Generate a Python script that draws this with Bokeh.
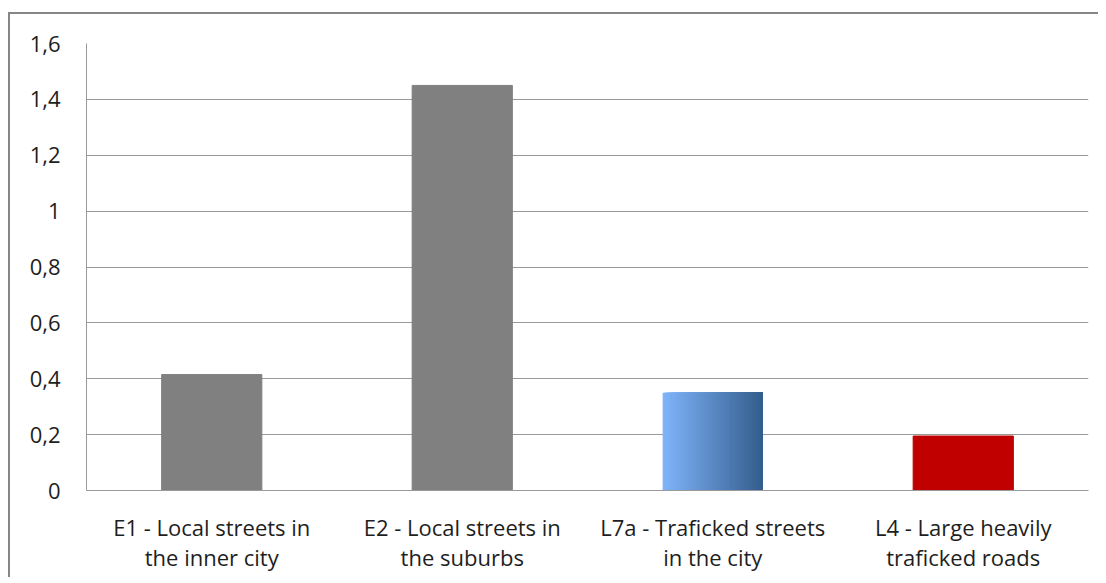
from bokeh.plotting import figure
from bokeh.models import (FactorRange, Range1d, FixedTicker, CustomJSTickFormatter,
                          ColumnDataSource)
from bokeh.transform import dodge
from bokeh.embed import file_html
from bokeh.resources import INLINE

categories = ["E1 - Local streets in\nthe inner city",
              "E2 - Local streets in\nthe suburbs",
              "L7a - Traficked streets\nin the city",
              "L4 - Large heavily\ntraficked roads"]
values = [0.415, 1.45, 0.35, 0.195]
y_ticks = [0, 0.2, 0.4, 0.6, 0.8, 1.0, 1.2, 1.4, 1.6]

FONT = "Open Sans"
TXT = "#1e1e1e"
GRID = "#9a9a9a"

p = figure(x_range=FactorRange(*categories), y_range=Range1d(0, 1.6),
           width=1090, height=565, output_backend="svg", toolbar_location=None,
           min_border_left=76, min_border_right=12, min_border_top=29,
           min_border_bottom=89)
p.styles = {"margin-top": "12px", "margin-left": "8px",
            "border-top": "2px solid #868686",
            "border-left": "2px solid #868686"}
p.outline_line_color = None
p.xgrid.grid_line_color = None
p.ygrid.grid_line_color = GRID
p.ygrid.grid_line_width = 1

# plain bars (gray / red)
plain_idx = [0, 1, 3]
bar_colors = {0: "#808080", 1: "#808080", 3: "#C00000"}
src = ColumnDataSource(dict(x=[categories[i] for i in plain_idx],
                            top=[values[i] for i in plain_idx],
                            color=[bar_colors[i] for i in plain_idx]))
p.vbar(x="x", top="top", width=0.4, source=src, fill_color="color",
       line_color="color")

# gradient bar (L7a): overlapping slices, each running to the bar's right edge
N = 80
c0 = (0x80, 0xB4, 0xFA)
c1 = (0x33, 0x5D, 0x8D)
bw = 0.4
for k in range(N):
    t = k / (N - 1)
    col = "#%02x%02x%02x" % tuple(int(round(a + (b - a) * t)) for a, b in zip(c0, c1))
    left = -bw / 2 + bw * k / N
    w = bw / 2 - left
    s = ColumnDataSource(dict(x=[categories[2]], top=[values[2]]))
    p.vbar(x=dodge("x", left + w / 2, range=p.x_range), top="top", width=w,
           source=s, fill_color=col, line_color=None)

# y axis
p.yaxis.ticker = FixedTicker(ticks=y_ticks)
p.yaxis.formatter = CustomJSTickFormatter(
    code="return (Math.round(tick*10)/10).toString().replace('.', ',');")
p.yaxis.axis_line_color = GRID
p.yaxis.major_tick_line_color = None
p.yaxis.minor_tick_line_color = None
p.yaxis.major_label_text_font = FONT
p.yaxis.major_label_text_font_size = "22px"
p.yaxis.major_label_text_color = TXT
p.yaxis.major_label_standoff = 20

# x axis
ax = p.xaxis[0]
ax.axis_line_color = GRID
ax.major_tick_line_color = None
ax.minor_tick_line_color = None
ax.major_tick_out = 0
ax.major_tick_in = 0
ax.major_label_text_font = FONT
ax.major_label_text_font_size = "22px"
ax.major_label_text_color = TXT
ax.major_label_text_line_height = 1.03
ax.major_label_standoff = 21

open("out.html", "w").write(file_html(p, INLINE))
